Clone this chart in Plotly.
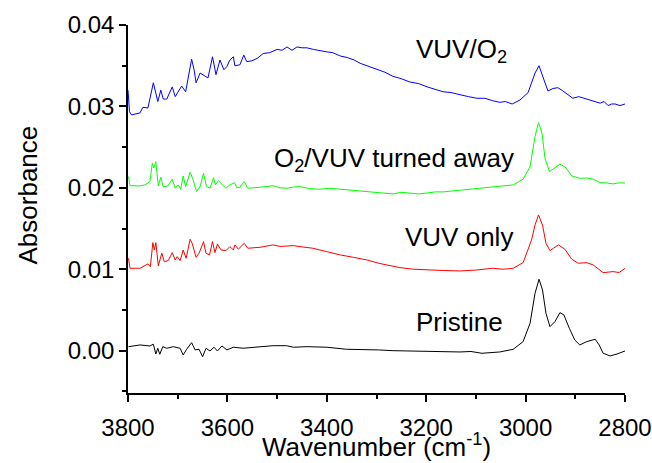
import plotly.graph_objects as go

# ---- data (wavenumber in cm-1, absorbance) ----
vuvo2_x = [3800, 3797, 3793, 3776, 3770, 3760, 3749, 3740, 3734, 3729, 3722, 3711, 3705, 3692, 3684,
           3672, 3667, 3663, 3655, 3649, 3639, 3630, 3623, 3615, 3607, 3601, 3595, 3588, 3585, 3575,
           3567, 3561, 3551, 3540, 3528, 3515, 3500, 3490, 3480, 3470, 3460, 3450, 3440, 3427, 3414,
           3400, 3388, 3373, 3359, 3345, 3333, 3315, 3299, 3283, 3267, 3250, 3233, 3215, 3198, 3182,
           3166, 3150, 3132, 3115, 3098, 3082, 3066, 3052, 3041, 3027, 3011, 2995, 2981, 2973, 2965,
           2955, 2945, 2935, 2925, 2915, 2905, 2893, 2881, 2865, 2850, 2842, 2834, 2827, 2820, 2810, 2800]
vuvo2_y = [0.0320, 0.02936, 0.02896, 0.0292, 0.0299, 0.0298, 0.0329, 0.0306, 0.0320, 0.0309, 0.0309, 0.0324, 0.0312, 0.0325, 0.0318,
           0.0358, 0.0345, 0.0329, 0.0341, 0.0339, 0.0335, 0.0361, 0.0339, 0.0357, 0.0345, 0.0349, 0.0357, 0.0361, 0.0350, 0.0351,
           0.0363, 0.0355, 0.0356, 0.0359, 0.0365, 0.0366, 0.0370, 0.0369, 0.0373, 0.0369, 0.0373, 0.0372, 0.0372, 0.0370, 0.0369,
           0.0367, 0.0366, 0.0362, 0.0360, 0.0357, 0.0353, 0.0349, 0.0345, 0.0342, 0.0337, 0.0334, 0.0330, 0.0328, 0.0324, 0.0321,
           0.0318, 0.0317, 0.0314, 0.0312, 0.0310, 0.0310, 0.0307, 0.0305, 0.0306, 0.0303, 0.0308, 0.0317, 0.0341, 0.0350, 0.0336,
           0.0319, 0.0322, 0.0323, 0.0319, 0.0314, 0.0310, 0.0312, 0.0310, 0.0307, 0.0304, 0.0306, 0.0301, 0.0303, 0.0303, 0.0301, 0.0303]

turned_x = [3799, 3796, 3776, 3766, 3756, 3751, 3748, 3744, 3739, 3734, 3729, 3720, 3711, 3705, 3699,
            3694, 3689, 3684, 3675, 3670, 3662, 3655, 3648, 3642, 3635, 3628, 3624, 3618, 3613, 3603,
            3595, 3586, 3581, 3575, 3566, 3559, 3534, 3520, 3508, 3494, 3480, 3467, 3454, 3434, 3414,
            3394, 3373, 3353, 3333, 3307, 3287, 3267, 3250, 3233, 3215, 3198, 3182, 3166, 3150, 3132,
            3105, 3078, 3060, 3041, 3025, 3005, 2991, 2981, 2974, 2967, 2961, 2952, 2941, 2931, 2921,
            2907, 2891, 2877, 2864, 2850, 2836, 2824, 2814, 2804, 2800]
turned_y = [0.02138, 0.02027, 0.02023, 0.02036, 0.02076, 0.02302, 0.02245, 0.02322, 0.02023, 0.02130, 0.02011, 0.02023, 0.02106, 0.01995, 0.02036,
            0.01983, 0.02146, 0.02015, 0.02192, 0.02118, 0.01953, 0.02015, 0.02179, 0.02015, 0.01995, 0.02125, 0.02036, 0.02088, 0.02056, 0.01995,
            0.02036, 0.02064, 0.02002, 0.02007, 0.02076, 0.01995, 0.02007, 0.02020, 0.02027, 0.02000, 0.01995, 0.02010, 0.02015, 0.01990, 0.01983,
            0.01995, 0.01983, 0.01975, 0.01966, 0.01946, 0.01940, 0.01925, 0.01945, 0.01937, 0.01925, 0.01937, 0.01950, 0.01950, 0.01960, 0.01974,
            0.01990, 0.02007, 0.02015, 0.02023, 0.02036, 0.02106, 0.02260, 0.02629, 0.02801, 0.02671, 0.02364, 0.02199, 0.02241, 0.02290, 0.02260,
            0.02146, 0.02118, 0.02120, 0.02106, 0.02064, 0.02060, 0.02048, 0.02060, 0.02064, 0.02060]

vuv_x = [3799, 3796, 3776, 3766, 3760, 3755, 3750, 3747, 3744, 3739, 3732, 3727, 3719, 3711, 3705,
         3701, 3695, 3689, 3683, 3675, 3671, 3663, 3657, 3648, 3643, 3636, 3630, 3625, 3620, 3613,
         3603, 3595, 3588, 3585, 3578, 3566, 3559, 3534, 3520, 3508, 3494, 3480, 3467, 3454, 3428,
         3400, 3373, 3347, 3319, 3296, 3275, 3253, 3225, 3198, 3166, 3132, 3098, 3066, 3045, 3025,
         3005, 2988, 2981, 2974, 2966, 2959, 2951, 2943, 2934, 2921, 2907, 2894, 2877, 2864, 2844,
         2834, 2824, 2812, 2803, 2800]
vuv_y = [0.01135, 0.01012, 0.01012, 0.01041, 0.01065, 0.01032, 0.01327, 0.01237, 0.01327, 0.01041, 0.01197, 0.01093, 0.01106, 0.01204, 0.01114,
         0.01155, 0.01106, 0.01237, 0.01135, 0.01369, 0.01319, 0.01147, 0.01197, 0.01339, 0.01197, 0.01176, 0.01339, 0.01204, 0.01311, 0.01237,
         0.01229, 0.01278, 0.01237, 0.01299, 0.01246, 0.01319, 0.01258, 0.01270, 0.01285, 0.01299, 0.01280, 0.01286, 0.01290, 0.01278, 0.01258,
         0.01216, 0.01176, 0.01147, 0.01114, 0.01074, 0.01045, 0.01020, 0.01000, 0.00991, 0.00985, 0.00979, 0.00991, 0.01012, 0.01000, 0.01012,
         0.01081, 0.01360, 0.01544, 0.01667, 0.01544, 0.01319, 0.01229, 0.01262, 0.01299, 0.01246, 0.01123, 0.01074, 0.01081, 0.01053, 0.00958,
         0.00965, 0.00971, 0.00960, 0.01000, 0.01010]

pristine_x = [3799, 3776, 3756, 3749, 3744, 3740, 3736, 3730, 3722, 3709, 3695, 3689, 3682, 3672, 3665,
              3657, 3650, 3643, 3635, 3627, 3620, 3611, 3601, 3588, 3568, 3548, 3528, 3508, 3481, 3467,
              3440, 3400, 3360, 3333, 3296, 3267, 3230, 3198, 3165, 3132, 3110, 3088, 3052, 3025, 3005,
              2991, 2981, 2973, 2966, 2959, 2951, 2941, 2931, 2923, 2912, 2901, 2891, 2877, 2860, 2852,
              2844, 2830, 2816, 2803, 2800]
pristine_y = [0.00049, 0.00070, 0.00058, 0.00079, -0.00041, 0.00029, -0.00044, 0.00049, 0.00029, 0.00049, 0.00029, -0.00053, 0.00017, 0.00098, 0.00009,
              0.00017, -0.00074, 0.00029, -0.00004, 0.00042, -0.00004, 0.00058, 0.00009, 0.00042, 0.00030, 0.00042, 0.00050, 0.00061, 0.00061, 0.00042,
              0.00049, 0.00042, 0.00017, 0.00017, 0.00009, 0.00000, -0.00005, -0.00012, -0.00010, -0.00016, -0.00010, -0.00032, -0.00016, 0.00017, 0.00111,
              0.00337, 0.00705, 0.00877, 0.00746, 0.00459, 0.00295, 0.00356, 0.00467, 0.00439, 0.00275, 0.00131, 0.00070, 0.00111, 0.00140, 0.00070,
              -0.00032, -0.00065, -0.00041, -0.00012, -0.00004]

series_names = ["VUV/O<sub>2</sub>", "O<sub>2</sub>/VUV turned away", "VUV only", "Pristine"]
series_colors = ["#0000ff", "#00ff00", "#ff0000", "#000000"]
label_x = [3033, 3019, 3021, 3041]
label_y = [0.0369, 0.02343, 0.01397, 0.00353]

FONT = "Liberation Sans, Arial, sans-serif"

fig = go.Figure()
for xs, ys, name, col in zip([vuvo2_x, turned_x, vuv_x, pristine_x],
                             [vuvo2_y, turned_y, vuv_y, pristine_y],
                             series_names, series_colors):
    fig.add_trace(go.Scatter(x=xs, y=ys, mode="lines", name=name,
                             line=dict(color=col, width=1), showlegend=False))

for name, lx, ly in zip(series_names, label_x, label_y):
    fig.add_annotation(x=lx, y=ly, xref="x", yref="y", text=name, showarrow=False,
                       xanchor="right", yanchor="middle",
                       font=dict(family=FONT, size=26, color="black"))

fig.add_annotation(x=0.5, y=-0.19, xref="paper", yref="paper",
                   text="Wavenumber (cm<sup>-1</sup>)", showarrow=False,
                   xanchor="center", yanchor="bottom", borderpad=0,
                   font=dict(family=FONT, size=26, color="black"))
fig.add_annotation(x=-0.201, y=0.537, xref="paper", yref="paper",
                   text="Absorbance", showarrow=False, textangle=-90,
                   xanchor="center", yanchor="middle",
                   font=dict(family=FONT, size=26, color="black"))

fig.update_layout(
    width=652, height=463,
    margin=dict(l=128, r=27, t=25, b=70, autoexpand=False),
    paper_bgcolor="white", plot_bgcolor="white",
    font=dict(family=FONT, size=24, color="black"),
)
fig.update_xaxes(range=[3800, 2800], tickmode="linear", tick0=2800, dtick=200,
                 showgrid=False, zeroline=False, showline=True, linecolor="black", linewidth=1.5,
                 ticks="outside", ticklen=7, tickwidth=1.5, tickcolor="black",
                 ticklabeloverflow="allow", automargin=False, ticklabelstandoff=5,
                 minor=dict(dtick=100, ticks="outside", ticklen=4, tickwidth=1.5, tickcolor="black", showgrid=False),
                 tickfont=dict(family=FONT, size=24))
fig.update_yaxes(range=[-0.0052, 0.04], tickmode="linear", tick0=0, dtick=0.01, tickformat=".2f",
                 showgrid=False, zeroline=False, showline=True, linecolor="black", linewidth=1.5,
                 ticks="outside", ticklen=7, tickwidth=1.5, tickcolor="black", automargin=False,
                 minor=dict(dtick=0.005, ticks="outside", ticklen=4, tickwidth=1.5, tickcolor="black", showgrid=False),
                 tickfont=dict(family=FONT, size=24))

fig.write_html("out.html")
